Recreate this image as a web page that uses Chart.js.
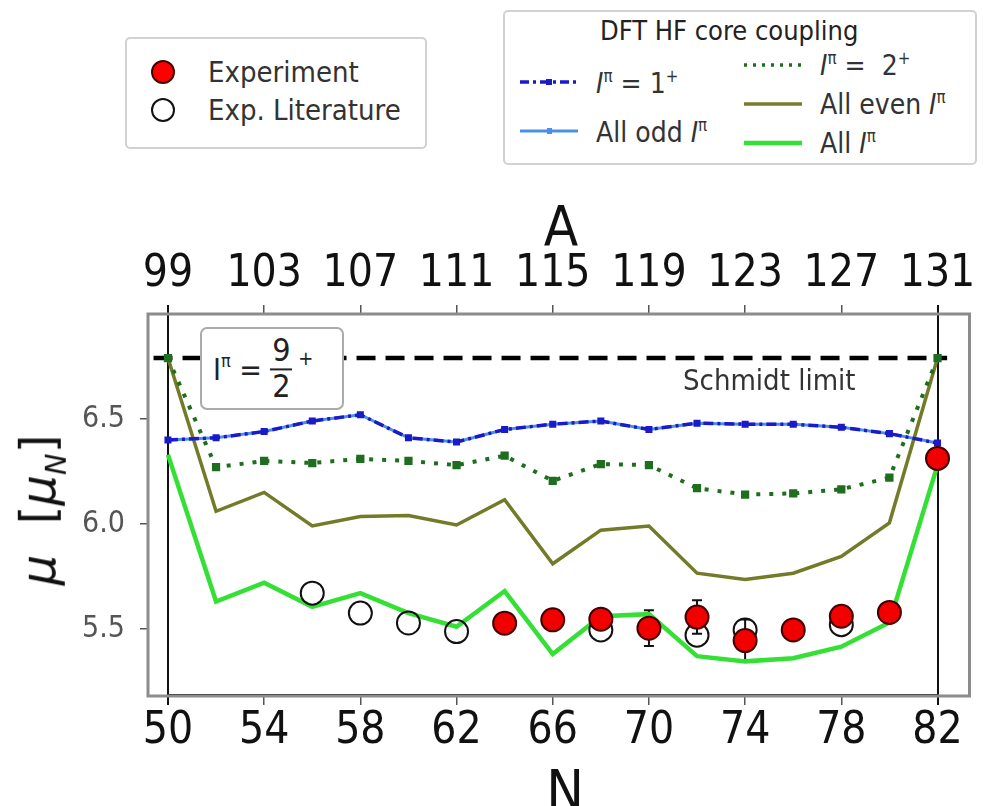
<!DOCTYPE html>
<html>
<head>
<meta charset="utf-8">
<script src="https://cdn.jsdelivr.net/npm/chart.js@4.4.1/dist/chart.umd.min.js"></script>
<style>
  body { margin: 0; background: #fff; }
  #wrap { position: relative; width: 983px; height: 806px; overflow: hidden;
          font-family: 'DejaVu Sans Condensed', 'DejaVu Sans', sans-serif; color: #333; }
  #chart { position: absolute; left: 0; top: 0; }
  .box { position: absolute; background: #fff; border: 2px solid #d2d2d2; border-radius: 5px; box-sizing: border-box; }
  .lbl { position: absolute; white-space: nowrap; line-height: 1; transform: translate(0, -50%); }
  .mid { transform: translate(-50%, -50%); }
  .sw { position: absolute; }
  sup { font-size: 60%; vertical-align: 0.7em; }
</style>
</head>
<body>
<div id="wrap">
  <canvas id="chart" width="983" height="806"></canvas>

  <!-- experiment legend -->
  <div class="box" style="left:125px; top:37px; width:302px; height:112px;"></div>
  <svg class="sw" style="left:148px; top:58px;" width="30" height="70">
    <circle cx="15" cy="14" r="11" fill="#f00" stroke="#400" stroke-width="2"/>
    <circle cx="15" cy="52" r="11" fill="none" stroke="#111" stroke-width="2"/>
  </svg>
  <div class="lbl" style="left:208px; top:72px; font-size:29px;">Experiment</div>
  <div class="lbl" style="left:208px; top:110px; font-size:29px;">Exp. Literature</div>

  <!-- DFT legend -->
  <div class="box" style="left:503px; top:10px; width:474px; height:155px;"></div>
  <div class="lbl" style="left:600px; top:30px; font-size:27px; color:#222;">DFT HF core coupling</div>
  <svg class="sw" style="left:518px; top:70px;" width="62" height="72">
    <line x1="2" y1="12" x2="60" y2="12" stroke="#1a1ac8" stroke-width="3.5" stroke-dasharray="9,4,3,4"/>
    <rect x="28" y="9" width="6" height="6" fill="#1a1ac8"/>
    <line x1="2" y1="61" x2="60" y2="61" stroke="#4a90ea" stroke-width="3"/>
    <rect x="29" y="58" width="5" height="6" fill="#4a90ea"/>
  </svg>
  <div class="lbl" style="left:596px; top:83px; font-size:28px;"><i>I</i><sup>π</sup> = 1<sup>+</sup></div>
  <div class="lbl" style="left:596px; top:132px; font-size:28px;">All odd <i>I</i><sup>π</sup></div>
  <svg class="sw" style="left:742px; top:52px;" width="62" height="104">
    <line x1="2" y1="13" x2="60" y2="13" stroke="#1f6e1f" stroke-width="3.5" stroke-dasharray="3,6"/>
    <line x1="2" y1="52" x2="60" y2="52" stroke="#777c2c" stroke-width="3.5"/>
    <line x1="2" y1="91" x2="60" y2="91" stroke="#35e035" stroke-width="4.5"/>
  </svg>
  <div class="lbl" style="left:820px; top:65px; font-size:28px;"><i>I</i><sup>π</sup> = &nbsp;2<sup>+</sup></div>
  <div class="lbl" style="left:820px; top:104px; font-size:28px;">All even <i>I</i><sup>π</sup></div>
  <div class="lbl" style="left:820px; top:143px; font-size:28px;">All <i>I</i><sup>π</sup></div>

  <!-- axis titles -->
  <div class="lbl mid" style="left:561px; top:226px; font-size:56px; color:#111;">A</div>
  <div class="lbl mid" style="left:565px; top:790px; font-size:56px; color:#111;">N</div>
  <div class="lbl" style="left:42px; top:510px; font-size:48px; color:#111; font-family:'DejaVu Sans';
       transform: translate(-50%, -50%) rotate(-90deg);"><i>μ</i>&nbsp; [<i>μ</i><sub style="font-size:60%"><i>N</i></sub>]</div>

  <!-- annotations -->
  <div class="box" style="left:200px; top:327px; width:144px; height:83px; border-color:#aaa; border-radius:7px;"></div>
  <div class="lbl" style="left:213px; top:369px; font-size:30px; color:#222; display:flex; align-items:center;">
    <span>I<sup>π</sup> =&nbsp;</span>
    <span style="display:inline-flex; flex-direction:column; align-items:center; font-size:32px; line-height:1.05;">
      <span>9</span><span style="border-top:2px solid #222; width:22px; height:0;"></span><span>2</span>
    </span>
    <span style="font-size:20px; margin-top:-22px;">&nbsp;+</span>
  </div>
  <div class="lbl" style="left:683px; top:380px; font-size:29px;">Schmidt limit</div>
</div>

<script>
// neutron number N and mass number A = N + Z (indium, Z = 49)
const Z = 49;
const nValues = [50, 52, 54, 56, 58, 60, 62, 64, 66, 68, 70, 72, 74, 76, 78, 80, 82];
const nTicks = [50, 54, 58, 62, 66, 70, 74, 78, 82];
const yTicks = [5.5, 6.0, 6.5];
const shellClosures = [50, 82];

// DFT HF core coupling calculations (mu in nuclear magnetons)
const muI1plus  = [6.40, 6.41, 6.44, 6.49, 6.52, 6.41, 6.39, 6.45, 6.475, 6.49, 6.45, 6.48, 6.475, 6.475, 6.46, 6.43, 6.385];
const muAllOdd  = [6.40, 6.41, 6.44, 6.49, 6.52, 6.41, 6.39, 6.45, 6.475, 6.49, 6.45, 6.48, 6.475, 6.475, 6.46, 6.43, 6.385];
const muI2plus  = [6.79, 6.27, 6.30, 6.29, 6.31, 6.30, 6.28, 6.325, 6.205, 6.285, 6.28, 6.17, 6.14, 6.145, 6.165, 6.22, 6.79];
const muAllEven = [6.79, 6.06, 6.15, 5.99, 6.035, 6.04, 5.995, 6.115, 5.81, 5.97, 5.99, 5.765, 5.735, 5.765, 5.845, 6.005, 6.79];
const muAll     = [6.33, 5.63, 5.72, 5.605, 5.67, 5.575, 5.51, 5.68, 5.38, 5.56, 5.57, 5.37, 5.345, 5.36, 5.415, 5.53, 6.28];

// measurements
const expN   = [64, 66, 68, 70, 72, 74, 76, 78, 80, 82];
const expMu  = [5.527, 5.543, 5.546, 5.503, 5.556, 5.444, 5.495, 5.56, 5.578, 6.312];
const expErr = [0.01, 0.01, 0.01, 0.085, 0.08, 0.10, 0.01, 0.01, 0.01, 0.01];
const litN   = [56, 58, 60, 62, 68, 72, 74, 78];
const litMu  = [5.67, 5.575, 5.528, 5.487, 5.495, 5.47, 5.495, 5.52];

const schmidtN = [49.4, 82.4];
const schmidtMu = 6.79;

const tickFont = "'DejaVu Sans Condensed', 'DejaVu Sans', sans-serif";

function pts(xs, ys) {
    return xs.map((x, i) => ({ x: x, y: Array.isArray(ys) ? ys[i] : ys }));
}

const framePlugin = {
    id: 'frame',
    beforeDatasetsDraw(chart) {
        const { ctx, chartArea: a, scales } = chart;
        const x = scales.x, y = scales.y;
        ctx.save();
        // shell closure lines
        ctx.strokeStyle = '#111';
        ctx.lineWidth = 2;
        shellClosures.forEach(n => {
            const px = Math.round(x.getPixelForValue(n));
            ctx.beginPath();
            ctx.moveTo(px, a.top - 9);
            ctx.lineTo(px, a.bottom + 9);
            ctx.stroke();
        });
        ctx.beginPath();
        ctx.moveTo(x.getPixelForValue(shellClosures[0]), a.bottom - 1);
        ctx.lineTo(x.getPixelForValue(shellClosures[1]), a.bottom - 1);
        ctx.stroke();
        // error bars of the measurements
        ctx.lineWidth = 2;
        expN.forEach((n, i) => {
            const px = x.getPixelForValue(n);
            const top = y.getPixelForValue(expMu[i] + expErr[i]);
            const bot = y.getPixelForValue(expMu[i] - expErr[i]);
            ctx.beginPath();
            ctx.moveTo(px, top); ctx.lineTo(px, bot);
            ctx.moveTo(px - 5, top); ctx.lineTo(px + 5, top);
            ctx.moveTo(px - 5, bot); ctx.lineTo(px + 5, bot);
            ctx.stroke();
        });
        ctx.restore();
    },
    afterDraw(chart) {
        const { ctx, chartArea: a } = chart;
        ctx.save();
        ctx.strokeStyle = '#8c8c8c';
        ctx.lineWidth = 3;
        ctx.strokeRect(a.left, a.top, a.right - a.left, a.bottom - a.top);
        ctx.restore();
    }
};

const xCommon = {
    type: 'linear',
    min: 49.17,
    max: 83.33,
    afterBuildTicks: s => { s.ticks = nTicks.map(v => ({ value: v })); },
    grid: { drawOnChartArea: false, tickLength: 9, color: '#555', lineWidth: 1.5 },
    border: { display: false }
};

new Chart(document.getElementById('chart').getContext('2d'), {
    type: 'line',
    data: {
        datasets: [
            {
                label: 'Experiment',
                data: pts(expN, expMu),
                showLine: false,
                pointRadius: 11.5,
                pointBackgroundColor: '#f20000',
                pointBorderColor: '#440000',
                pointBorderWidth: 2,
                order: 0
            },
            {
                label: 'Exp. Literature',
                data: pts(litN, litMu),
                showLine: false,
                pointRadius: 11.5,
                pointBackgroundColor: 'rgba(255,255,255,0)',
                pointBorderColor: '#111',
                pointBorderWidth: 2,
                order: 1
            },
            {
                label: 'I = 1+',
                data: pts(nValues, muI1plus),
                borderColor: '#1a1ac8',
                backgroundColor: '#1a1ac8',
                borderWidth: 3.5,
                borderDash: [10, 4, 3, 4],
                pointRadius: 2.5,
                pointStyle: 'rect',
                order: 2
            },
            {
                label: 'All odd I',
                data: pts(nValues, muAllOdd),
                borderColor: '#4a90ea',
                backgroundColor: '#4a90ea',
                borderWidth: 3,
                pointRadius: 0,
                order: 3
            },
            {
                label: 'I = 2+',
                data: pts(nValues, muI2plus),
                borderColor: '#1f6e1f',
                backgroundColor: '#1f6e1f',
                borderWidth: 4,
                borderDash: [4, 9],
                pointRadius: 3,
                pointStyle: 'rect',
                order: 4
            },
            {
                label: 'All even I',
                data: pts(nValues, muAllEven),
                borderColor: '#737a28',
                borderWidth: 3.5,
                pointRadius: 0,
                order: 5
            },
            {
                label: 'All I',
                data: pts(nValues, muAll),
                borderColor: '#35e035',
                borderWidth: 4.5,
                pointRadius: 0,
                order: 6
            },
            {
                label: 'Schmidt limit',
                data: pts(schmidtN, schmidtMu),
                borderColor: '#000',
                borderWidth: 4.5,
                borderDash: [19, 10],
                pointRadius: 0,
                order: 7
            }
        ]
    },
    options: {
        responsive: false,
        animation: false,
        layout: { padding: { right: 7 } },
        plugins: {
            legend: { display: false },
            tooltip: { enabled: false }
        },
        scales: {
            x: Object.assign({}, xCommon, {
                position: 'bottom',
                afterFit: s => { s.height = 110; },
                ticks: { font: { family: tickFont, size: 44 }, color: '#111', padding: 0, maxRotation: 0, autoSkip: false }
            }),
            xTop: Object.assign({}, xCommon, {
                position: 'top',
                afterFit: s => { s.height = 314; },
                ticks: {
                    font: { family: tickFont, size: 44 }, color: '#111', padding: 4, maxRotation: 0, autoSkip: false,
                    callback: v => v + Z
                }
            }),
            y: {
                min: 5.18,
                max: 7.0,
                afterBuildTicks: s => { s.ticks = yTicks.map(v => ({ value: v })); },
                afterFit: s => { s.width = 148; },
                grid: { drawOnChartArea: false, tickLength: 8, color: '#555', lineWidth: 1.5 },
                border: { display: false },
                ticks: {
                    font: { family: tickFont, size: 30 }, color: '#555', padding: 15,
                    callback: v => v.toFixed(1)
                }
            }
        }
    },
    plugins: [framePlugin]
});
</script>
</body>
</html>
